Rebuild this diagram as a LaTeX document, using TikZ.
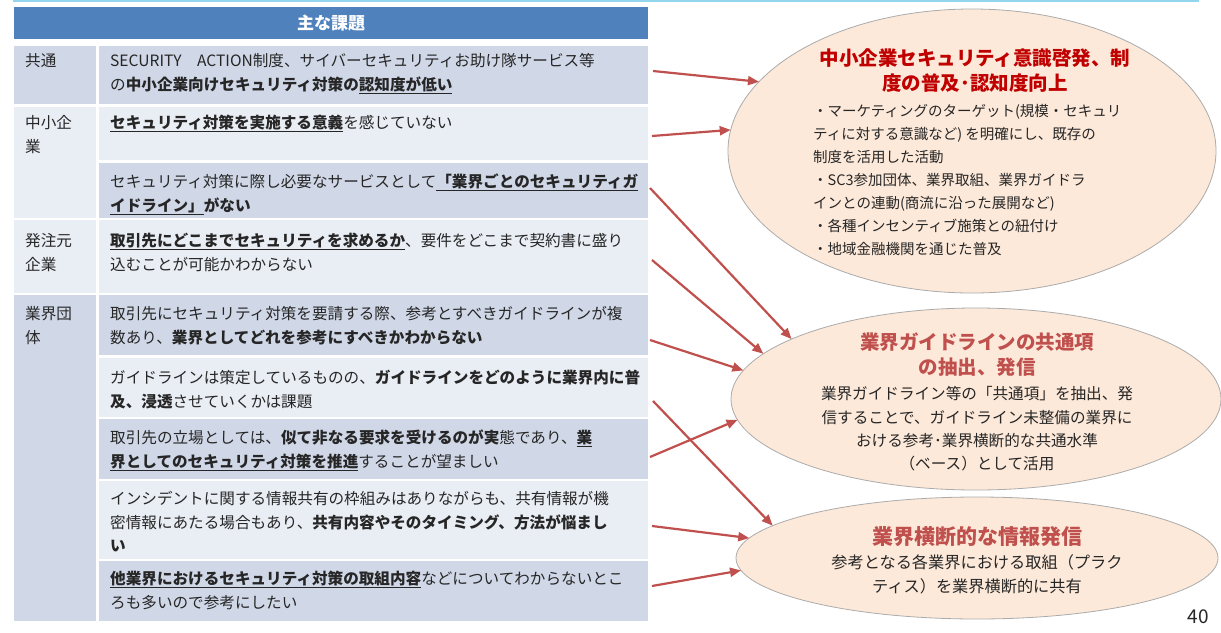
\documentclass[tikz,border=0pt]{standalone}
\usepackage{fontspec}
\setmainfont{Noto Sans CJK JP}
\usetikzlibrary{arrows.meta,shapes.geometric}
\definecolor{hdr}{HTML}{4F81BD}
\definecolor{rowd}{HTML}{D0D8E8}
\definecolor{rowl}{HTML}{E9EDF4}
\definecolor{arr}{HTML}{C0504D}
\definecolor{ttl}{HTML}{C00000}
\definecolor{ell}{HTML}{FDE9D9}
\definecolor{ellb}{HTML}{ABABAB}
\definecolor{topl}{HTML}{93D5EC}
\definecolor{txt}{HTML}{262626}
\newcommand\fl{\rule{0pt}{14pt}}
\newcommand\ft{\rule{0pt}{17pt}}
\newcommand\myul[1]{\underline{#1}}
\begin{document}
\begin{tikzpicture}[x=1pt,y=-1pt,
  cell/.style={inner sep=0,outer sep=0,anchor=north west,minimum width=#1},
  lcell/.style={cell=82},
  rcell/.style={cell=549},
  rtxt/.style={anchor=north west,inner sep=0,align=left,text=txt,font=\fontsize{15.6}{23.3}\selectfont},
  btxt/.style={anchor=north west,inner sep=0,align=left,text=txt,font=\fontsize{14.5}{23}\selectfont},
  ctxt/.style={anchor=north,inner sep=0,align=center,text=txt,font=\fontsize{15.6}{23.3}\selectfont},
  ttxt/.style={anchor=north,inner sep=0,align=center,font=\fontsize{19.5}{25.5}\selectfont\bfseries},
  bub/.style={ellipse,draw=ellb,fill=ell,line width=0.8,inner sep=0,outer sep=0},
  arw/.style={draw=arr,line width=2.2,-{Triangle[length=11,width=9]}}]
\fill[white] (0,0) rectangle (1221,632);
\useasboundingbox (0,0) rectangle (1221,632);
\draw[topl,line width=2] (13,1) -- (1199,1);
% header
\node[cell=634,fill=hdr,minimum height=32] (hd) at (14,7) {};
\node[text=white,font=\fontsize{17}{20}\selectfont\bfseries,inner sep=0] (hdt) at (hd.center) {主な課題};
% left cells
\node[lcell,fill=rowd,minimum height=58] (cl1) at (14,46) {};
\node[lcell,fill=rowl,minimum height=111] (cl2) at (14,107) {};
\node[lcell,fill=rowl,minimum height=73] (cl3) at (14,220) {};
\node[lcell,fill=rowd,minimum height=326] (cl4) at (14,295) {};
% right cells
\node[rcell,fill=rowd,minimum height=58] (cr1) at (99,46) {};
\node[rcell,fill=rowl,minimum height=53] (cr2) at (99,107) {};
\node[rcell,fill=rowd,minimum height=55] (cr3) at (99,163) {};
\node[rcell,fill=rowl,minimum height=73] (cr4) at (99,220) {};
\node[rcell,fill=rowd,minimum height=60] (cr5) at (99,295) {};
\node[rcell,fill=rowl,minimum height=59] (cr6) at (99,358) {};
\node[rcell,fill=rowd,minimum height=60] (cr7) at (99,419) {};
\node[rcell,fill=rowl,minimum height=78] (cr8) at (99,481) {};
\node[rcell,fill=rowd,minimum height=60] (cr9) at (99,561) {};
% left labels
\node[rtxt] (ll1) at (25,52.5) {\fl 共通};
\node[rtxt] (ll2) at (25,114.5) {\fl 中小企\\業};
\node[rtxt] (ll3) at (25,232.5) {\fl 発注元\\企業};
\node[rtxt] (ll4) at (25,305.5) {\fl 業界団\\体};
% right texts
\node[rtxt] (t1) at (110,52.5) {\fl SECURITY　ACTION制度、サイバーセキュリティお助け隊サービス等\\の\textbf{中小企業向けセキュリティ対策の\myul{認知度が低い}}};
\node[rtxt] (t2) at (110,114.5) {\fl\textbf{\myul{セキュリティ対策を実施する意義}}を感じていない};
\node[rtxt] (t3) at (110,173.5) {\fl セキュリティ対策に際し必要なサービスとして\textbf{\myul{「業界ごとのセキュリティガ}}\\\textbf{\myul{イドライン」}がない}};
\node[rtxt] (t4) at (110,232.5) {\fl\textbf{\myul{取引先にどこまでセキュリティを求めるか}}、要件をどこまで契約書に盛り\\込むことが可能かわからない};
\node[rtxt] (t5) at (110,305.5) {\fl 取引先にセキュリティ対策を要請する際、参考とすべきガイドラインが複\\数あり、\textbf{業界としてどれを参考にすべきかわからない}};
\node[rtxt] (t6) at (110,369.5) {\fl ガイドラインは策定しているものの、\textbf{ガイドラインをどのように業界内に普}\\\textbf{及、浸透}させていくかは課題};
\node[rtxt] (t7) at (110,429.5) {\fl 取引先の立場としては、\textbf{似て非なる要求を受けるのが実}態であり、\textbf{\myul{業}}\\\textbf{\myul{界としてのセキュリティ対策を推進}}することが望ましい};
\node[rtxt] (t8) at (110,490.5) {\fl インシデントに関する情報共有の枠組みはありながらも、共有情報が機\\密情報にあたる場合もあり、\textbf{共有内容やそのタイミング、方法が悩まし}\\\textbf{い}};
\node[rtxt] (t9) at (110,570.5) {\fl\textbf{\myul{他業界におけるセキュリティ対策の取組内容}}などについてわからないとこ\\ろも多いので参考にしたい};
% ellipses
\node[bub,minimum width=488,minimum height=284] (e1) at (972,151) {};
\node[bub,minimum width=490,minimum height=182] (e2) at (976,399) {};
\node[bub,minimum width=482,minimum height=122] (e3) at (977,558) {};
% ellipse texts
\node[ttxt,text=ttl] (e1t) at (975,48.2) {\ft 中小企業セキュリティ意識啓発、制\\度の普及･認知度向上};
\node[btxt] (e1b) at (813,102.5) {\fl ・マーケティングのターゲット(規模・セキュリ\\ティに対する意識など) を明確にし、既存の\\制度を活用した活動\\・SC3参加団体、業界取組、業界ガイドラ\\インとの連動(商流に沿った展開など)\\・各種インセンティブ施策との紐付け\\・地域金融機関を通じた普及};
\node[ttxt,text=arr] (e2t) at (977,332.2) {\ft 業界ガイドラインの共通項\\の抽出、発信};
\node[ctxt] (e2b) at (977,385.5) {\fl 業界ガイドライン等の「共通項」を抽出、発\\信することで、ガイドライン未整備の業界に\\おける参考･業界横断的な共通水準\\（ベース）として活用};
\node[ttxt,text=arr,font=\fontsize{21}{25.5}\selectfont\bfseries] (e3t) at (977,526.5) {\ft 業界横断的な情報発信};
\node[ctxt,font=\fontsize{16.2}{23.3}\selectfont] (e3b) at (977,554.5) {\fl 参考となる各業界における取組（プラク\\ティス）を業界横断的に共有};
% page number
\node[text=txt,font=\fontsize{19}{22}\selectfont,inner sep=0] (pg) at (1198,617) {40};
% arrow start points
\coordinate (s1) at (653,71);
\coordinate (s2) at (652,136);
\coordinate (s3) at (650,188);
\coordinate (s4) at (652,260);
\coordinate (s5) at (650,340);
\coordinate (s6) at (650,457);
\coordinate (s7) at (653,401);
\coordinate (s8) at (652,526);
\coordinate (s9) at (652,586);
\draw[arw] (s1) -- (e1.162.3);
\draw[arw] (s2) -- (e1.175.1);
\draw[arw] (s3) -- (e2.162.8);
\draw[arw] (s4) -- (e2.168.1);
\draw[arw] (s5) -- (e2.173.3);
\draw[arw] (s6) -- (e2.185.7);
\draw[arw] (s7) -- (e3.171.9);
\draw[arw] (s8) -- (e3.175.1);
\draw[arw] (s9) -- (e3.183.4);
\end{tikzpicture}
\end{document}
